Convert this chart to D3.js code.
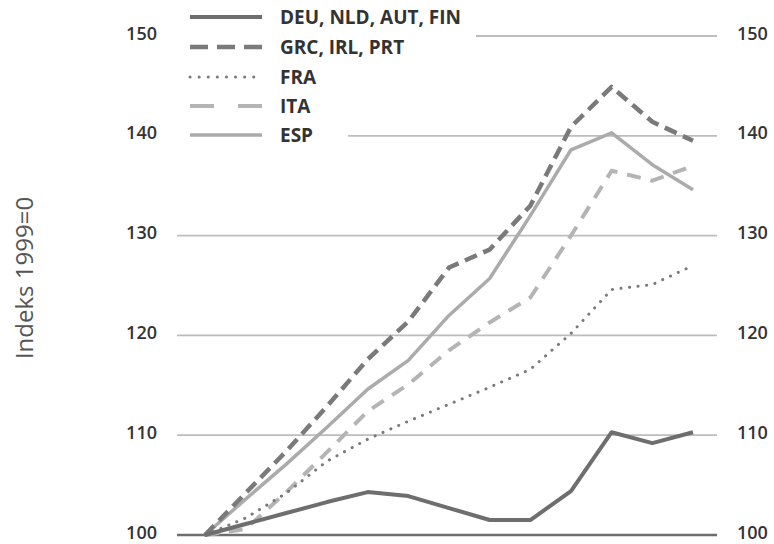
<!DOCTYPE html>
<html>
<head>
<meta charset="utf-8">
<script src="https://cdn.jsdelivr.net/npm/d3@7"></script>
<style>
  body { margin: 0; background: #fff; }
  text { font-family: "Open Sans", sans-serif; }
</style>
</head>
<body>
<svg id="chart" width="774" height="544"></svg>
<script>
// years 1999..2011, index 1999 = 100
var years = [1999, 2000, 2001, 2002, 2003, 2004, 2005, 2006, 2007, 2008, 2009, 2010, 2011];
var deu = [100, 101.1, 102.2, 103.3, 104.3, 103.9, 102.7, 101.5, 101.5, 104.4, 110.3, 109.2, 110.3];
var grc = [100, 104.2, 108.4, 112.9, 117.6, 121.4, 126.8, 128.6, 133.0, 140.9, 144.9, 141.4, 139.5];
var fra = [100, 101.7, 104.2, 107.4, 109.6, 111.4, 113.1, 114.8, 116.6, 120.2, 124.6, 125.1, 127.0];
var ita = [100, 100.6, 104.3, 108.3, 112.4, 115.1, 118.5, 121.3, 123.8, 130.0, 136.5, 135.5, 137.0];
var esp = [100, 103.6, 107.1, 110.8, 114.6, 117.5, 122.0, 125.7, 132.0, 138.6, 140.3, 137.1, 134.6];
var seriesNames = ["DEU, NLD, AUT, FIN", "GRC, IRL, PRT", "FRA", "ITA", "ESP"];
var yTicks = [100, 110, 120, 130, 140, 150];
var yTitle = "Indeks 1999=0";

var svg = d3.select("#chart");

var x = d3.scaleLinear().domain([1999, 2011]).range([205, 693]);
var y = d3.scaleLinear().domain([100, 150]).range([535, 36]);

var styles = [
    {color: "#6e6e6e", width: 4,   dash: null,      legDash: null,    cap: "butt"},
    {color: "#7a7a7a", width: 4.5, dash: "13,7",    legDash: "18,9",  cap: "butt"},
    {color: "#7a7a7a", width: 3,   dash: "0.1,8.5", legDash: "0.1,9", cap: "round"},
    {color: "#b4b4b4", width: 4,   dash: "14,10",   legDash: "24,24", cap: "butt"},
    {color: "#ababab", width: 3.5, dash: null,      legDash: null,    cap: "butt"}
];
var data = [deu, grc, fra, ita, esp];

// legend first, so gridlines can stop before it
var legend = svg.append("g");
var legY = [17, 47, 77, 106, 135];
var textEnds = [];
seriesNames.forEach(function(n, i) {
    var s = styles[i];
    legend.append("line")
        .attr("x1", 190).attr("x2", 262)
        .attr("y1", legY[i]).attr("y2", legY[i])
        .attr("stroke", s.color)
        .attr("stroke-width", s.width)
        .attr("stroke-dasharray", s.legDash)
        .attr("stroke-linecap", s.cap);
    var t = legend.append("text")
        .attr("x", 280).attr("y", legY[i] + 7)
        .attr("font-size", 19)
        .attr("font-weight", 700)
        .attr("fill", "#333")
        .text(n);
    textEnds.push(280 + t.node().getComputedTextLength());
});

// gridlines
var grid = svg.insert("g", "g");
yTicks.forEach(function(v) {
    var x1 = 177;
    if (v === 150) x1 = textEnds[0] + 15;
    if (v === 140) x1 = 348;
    grid.append("line")
        .attr("x1", x1).attr("x2", 717)
        .attr("y1", y(v)).attr("y2", y(v))
        .attr("stroke", v === 100 ? "#6e6e6e" : "#bdbdbd")
        .attr("stroke-width", v === 100 ? 2.5 : 1.8);
});

// tick labels, left and right
svg.append("g").selectAll("text").data(yTicks).join("text")
    .attr("x", 157).attr("y", function(d) { return y(d) + 3.5; })
    .attr("text-anchor", "end")
    .attr("font-size", 18).attr("font-weight", 600).attr("fill", "#333")
    .text(function(d) { return d; });
svg.append("g").selectAll("text").data(yTicks).join("text")
    .attr("x", 737).attr("y", function(d) { return y(d) + 3.5; })
    .attr("font-size", 18).attr("font-weight", 600).attr("fill", "#333")
    .text(function(d) { return d; });

svg.append("text")
    .attr("transform", "translate(33,278) rotate(-90)")
    .attr("text-anchor", "middle")
    .attr("font-size", 24).attr("font-weight", 400).attr("fill", "#555")
    .text(yTitle);

// series lines, ESP/ITA/FRA under the darker ones
var line = d3.line()
    .x(function(d, i) { return x(years[i]); })
    .y(function(d) { return y(d); });

[4, 3, 2, 1, 0].forEach(function(i) {
    var s = styles[i];
    svg.append("path")
        .datum(data[i])
        .attr("d", line)
        .attr("fill", "none")
        .attr("stroke", s.color)
        .attr("stroke-width", s.width)
        .attr("stroke-dasharray", s.dash)
        .attr("stroke-linecap", s.cap)
        .attr("stroke-linejoin", "round");
});
</script>
</body>
</html>
